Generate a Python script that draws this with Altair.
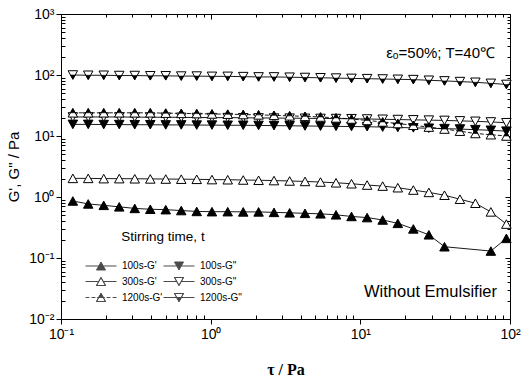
import altair as alt
import pandas as pd

# ---------------- data ----------------
tau = [0.12, 0.152, 0.193, 0.245, 0.311, 0.395, 0.501, 0.636, 0.807, 1.02, 1.30, 1.65,
       2.09, 2.65, 3.37, 4.27, 5.42, 6.88, 8.73, 11.1, 14.1, 17.8, 22.6, 28.7, 36.5,
       46.3, 58.7, 74.5, 94.6]

g_100_Gp = [0.86, 0.77, 0.73, 0.69, 0.65, 0.63, 0.62, 0.60, 0.58, 0.575, 0.575, 0.57, 0.57,
            0.56, 0.55, 0.54, 0.53, 0.51, 0.48, 0.46, 0.42, 0.37, 0.30, 0.24, 0.153,
            None, None, 0.13, 0.21]
g_300_Gp = [2.02, 2.02, 2.0, 2.0, 1.99, 1.98, 1.97, 1.96, 1.95, 1.93, 1.92, 1.90, 1.88,
            1.86, 1.83, 1.80, 1.76, 1.71, 1.65, 1.57, 1.51, 1.42, 1.30, 1.19, 1.07,
            0.92, 0.79, 0.57, 0.36]
g_1200_Gp = [24, 24, 24, 24, 24, 24, 23.7, 23.5, 23.3, 23, 22.8, 22.5, 22.2, 21.8, 21.4,
             21, 20.5, 19.8, 19, 18, 17, 16, 15, 14, 13, 12, 11, 10.5, 10]
g_100_Gpp = [15.5, 15.5, 15.4, 15.4, 15.3, 15.3, 15.2, 15.2, 15.1, 15.1, 15, 15, 14.9,
             14.8, 14.7, 14.6, 14.5, 14.4, 14.3, 14.2, 14.0, 13.8, 13.6, 13.4, 13.2,
             13.0, 12.7, 12.4, 12.0]
g_300_Gpp = [20.5, 20.5, 20.5, 20.5, 20.4, 20.3, 20.3, 20.2, 20.1, 20, 20, 19.9, 19.8,
             19.7, 19.6, 19.5, 19.4, 19.3, 19.2, 19.0, 18.8, 18.6, 18.4, 18.2, 18.0,
             17.7, 17.4, 17.0, 16.5]
g_1200_Gpp = [100, 99, 99, 98, 98, 97, 97, 96, 96, 95, 95, 94, 93, 93, 92, 91, 90, 89,
              88, 87, 86, 85, 84, 82, 80, 78, 76, 73, 70]

names = ["100s-G'", '100s-G"', "300s-G'", '300s-G"', "1200s-G'", '1200s-G"']
series_values = [g_100_Gp, g_100_Gpp, g_300_Gp, g_300_Gpp, g_1200_Gp, g_1200_Gpp]

x_decades = [0.1, 1, 10, 100]
y_decades = [0.01, 0.1, 1, 10, 100, 1000]
x_minor = [m * d for d in [0.1, 1, 10] for m in range(2, 10)]
y_minor = [m * d for d in [0.01, 0.1, 1, 10, 100] for m in range(2, 10)]

rows = []
for name, vals in zip(names, series_values):
    for t, g in zip(tau, vals):
        if g is not None:
            rows.append({"tau": t, "G": g, "series": name})
df = pd.DataFrame(rows)

# ---------------- style ----------------
W, H = 449, 305
FONT = "Liberation Sans"

UP = "M0,-0.9L1,0.9L-1,0.9Z"
DOWN = "M-1,-0.9L1,-0.9L0,0.9Z"
UP_HALF = "M0,-0.9L0.5,0L-0.5,0Z"
DOWN_HALF = "M-0.5,0L0.5,0L0,0.9Z"

# legend symbols (unit = 4.5 px): connecting line + triangle; open triangles are drawn
# as a back-and-forth outline so that they enclose no fill.
LINE = "M-3.45,0L-0.5,0M0.5,0L3.45,0"
DASH = "M-3.45,0L-2.6,0M-2.1,0L-1.25,0M-0.85,0L-0.5,0M0.5,0L0.85,0M1.25,0L2.1,0M2.6,0L3.45,0"
TRI_UP = "M0,-0.89L1,0.89L-1,0.89Z"
TRI_DN = "M-1,-0.89L1,-0.89L0,0.89Z"
OUT_UP = "M0,-0.89L1,0.89L-1,0.89L0,-0.89L-1,0.89L1,0.89L0,-0.89"
OUT_DN = "M-1,-0.89L1,-0.89L0,0.89L-1,-0.89L0,0.89L1,-0.89L-1,-0.89"
HALF_UP = "M0,-0.89L0.5,0L-0.5,0Z"
HALF_DN = "M-0.5,0L0.5,0L0,0.89Z"
legend_paths = [
    LINE + TRI_UP,
    LINE + TRI_DN,
    LINE + OUT_UP,
    LINE + OUT_DN,
    DASH + OUT_UP + HALF_UP,
    LINE + OUT_DN + HALF_DN,
]

xs = alt.Scale(type="log", domain=[0.1, 100], nice=False)
ys = alt.Scale(type="log", domain=[0.01, 1000], nice=False)

lab_expr = ("datum.value < 0.05 ? '10⁻²' : datum.value < 0.5 ? '10⁻¹' : datum.value < 5 ? '10⁰' : "
            "datum.value < 50 ? '10¹' : datum.value < 500 ? '10²' : '10³'")
major_test = "abs(log(datum.value)/LN10 - round(log(datum.value)/LN10)) < 0.001"
cond_size = {"condition": {"test": major_test, "value": 5}, "value": 3}

base = alt.Chart(df)


def X(axis):
    return alt.X("tau:Q", scale=xs, axis=axis)


def Y(axis):
    return alt.Y("G:Q", scale=ys, axis=axis)


lines_solid = base.transform_filter(alt.datum.series != "1200s-G'").mark_line(
    color="black", strokeWidth=0.9).encode(x=X(None), y=Y(None), detail="series:N")
lines_dash = base.transform_filter(alt.datum.series == "1200s-G'").mark_line(
    color="black", strokeWidth=0.9, strokeDash=[4, 2]).encode(x=X(None), y=Y(None))

point_layers = []
styles = [
    (names[0], UP, "black", None),
    (names[1], DOWN, "black", None),
    (names[2], UP, "white", None),
    (names[3], DOWN, "white", None),
    (names[4], UP, "white", UP_HALF),
    (names[5], DOWN, "white", DOWN_HALF),
]
for name, shp, fill, half in styles:
    sub = base.transform_filter(alt.datum.series == name)
    point_layers.append(sub.mark_point(shape=shp, size=90, filled=True, fill=fill,
                                       stroke="black", strokeWidth=1, opacity=1)
                        .encode(x=X(None), y=Y(None)))
    if half:
        point_layers.append(sub.mark_point(shape=half, size=90, filled=True, fill="black",
                                           stroke="black", strokeWidth=0.6, opacity=1)
                            .encode(x=X(None), y=Y(None)))


def make_legend():
    return alt.Legend(title="Stirring time, t", orient="none", legendX=24,
                      legendY=216, columns=2, direction="horizontal",
                      symbolSize=81, symbolOffset=11, symbolStrokeWidth=1,
                      symbolStrokeColor="black", symbolFillColor="black",
                      labelFont=FONT, labelFontSize=10, labelOffset=16,
                      titleFont=FONT, titleFontSize=13.5, titleFontWeight="normal",
                      titleAnchor="middle", titlePadding=17, rowPadding=2,
                      columnPadding=-3, padding=0, labelColor="black",
                      titleColor="black")


# legend-only layer: no rows survive the filter, the legend is built from the scale domain
legend_layer = base.transform_filter("datum.G < 0").mark_point(
    filled=False, fill="black", strokeWidth=1).encode(
    x=X(None), y=Y(None),
    shape=alt.Shape("series:N", scale=alt.Scale(domain=names, range=legend_paths),
                    legend=make_legend()),
    stroke=alt.Stroke("series:N", scale=alt.Scale(domain=names, range=["black"] * 6),
                      legend=make_legend()),
)

dummy = base.mark_point(opacity=0)
axes_main = dummy.encode(
    x=X(alt.Axis(orient="bottom", values=x_decades, labelExpr=lab_expr, tickSize=5,
                 labelPadding=3, labelFont=FONT, labelFontSize=14, labelFlush=False,
                 title="τ / Pa", titleFont="Liberation Serif", titleFontSize=16,
                 titleFontWeight="bold", titlePadding=20, grid=False)),
    y=Y(alt.Axis(orient="left", values=y_decades, labelExpr=lab_expr, tickSize=5,
                 labelPadding=2, labelFont=FONT, labelFontSize=14, labelFlush=False,
                 title="G', G\" / Pa", titleFont=FONT, titleFontSize=15,
                 titleFontWeight="normal", titlePadding=7, grid=False)),
)
axes_inner_lb = dummy.encode(
    x=X(alt.Axis(orient="top", offset=-H, values=x_minor, tickSize=4, labels=False,
                 domain=False, title=None, grid=False)),
    y=Y(alt.Axis(orient="right", offset=-W, values=y_minor, tickSize=4, labels=False,
                 domain=False, title=None, grid=False)),
)
axes_inner_tr = dummy.encode(
    x=X(alt.Axis(orient="bottom", offset=-H, values=x_decades + x_minor, tickSize=cond_size,
                 labels=False, domain=False, title=None, grid=False)),
    y=Y(alt.Axis(orient="left", offset=-W, values=y_decades + y_minor, tickSize=cond_size,
                 labels=False, domain=False, title=None, grid=False)),
)

anno = pd.DataFrame({"t": ["εₒ=50%; T=40℃", "Without Emulsifier"]})
eps_text = alt.Chart(anno).transform_filter(alt.datum.t == "εₒ=50%; T=40℃").mark_text(
    font=FONT, fontSize=15, align="right", baseline="alphabetic", color="black"
).encode(text="t:N", x=alt.value(434), y=alt.value(44))
we_text = alt.Chart(anno).transform_filter(alt.datum.t == "Without Emulsifier").mark_text(
    font=FONT, fontSize=16.5, align="right", baseline="alphabetic", color="black"
).encode(text="t:N", x=alt.value(436), y=alt.value(283))

chart = alt.layer(
    lines_solid, lines_dash, *point_layers, legend_layer, axes_main, axes_inner_lb,
    axes_inner_tr, eps_text, we_text
).resolve_axis(x="independent", y="independent").properties(
    width=W, height=H, autosize=alt.AutoSizeParams(type="none"),
    padding={"left": 61, "top": 14, "right": 13, "bottom": 60},
    background="white",
).configure_view(stroke="black", strokeWidth=1).configure_axis(
    domainColor="black", tickColor="black", labelColor="black", titleColor="black",
    domainWidth=1, tickWidth=1,
)

chart.save("out.html", embed_options={"renderer": "svg", "actions": False})
